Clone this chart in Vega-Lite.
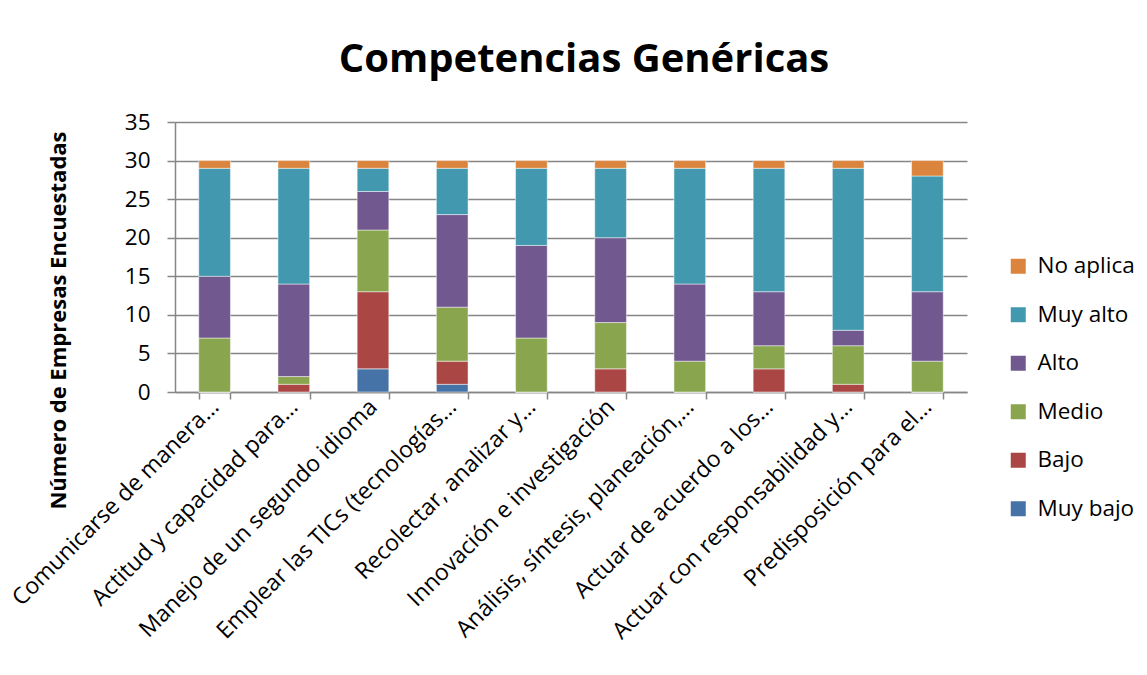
{
  "$schema": "https://vega.github.io/schema/vega-lite/v6.json",
  "autosize": {"type": "none"},
  "padding": {"left": 175, "top": 122, "right": 180, "bottom": 283},
  "width": 792,
  "height": 270,
  "background": "white",
  "title": {
    "text": "Competencias Genéricas",
    "font": "Open Sans",
    "fontSize": 40,
    "fontWeight": "bold",
    "color": "black",
    "anchor": "middle",
    "frame": "group",
    "dx": 13,
    "offset": 31
  },
  "data": {
    "values": [
      {"c": "Comunicarse de manera…", "s": "Muy bajo", "o": 1, "v": 0},
      {"c": "Comunicarse de manera…", "s": "Bajo", "o": 2, "v": 0},
      {"c": "Comunicarse de manera…", "s": "Medio", "o": 3, "v": 7},
      {"c": "Comunicarse de manera…", "s": "Alto", "o": 4, "v": 8},
      {"c": "Comunicarse de manera…", "s": "Muy alto", "o": 5, "v": 14},
      {"c": "Comunicarse de manera…", "s": "No aplica", "o": 6, "v": 1},
      {"c": "Actitud y capacidad para…", "s": "Muy bajo", "o": 1, "v": 0},
      {"c": "Actitud y capacidad para…", "s": "Bajo", "o": 2, "v": 1},
      {"c": "Actitud y capacidad para…", "s": "Medio", "o": 3, "v": 1},
      {"c": "Actitud y capacidad para…", "s": "Alto", "o": 4, "v": 12},
      {"c": "Actitud y capacidad para…", "s": "Muy alto", "o": 5, "v": 15},
      {"c": "Actitud y capacidad para…", "s": "No aplica", "o": 6, "v": 1},
      {"c": "Manejo de un segundo idioma", "s": "Muy bajo", "o": 1, "v": 3},
      {"c": "Manejo de un segundo idioma", "s": "Bajo", "o": 2, "v": 10},
      {"c": "Manejo de un segundo idioma", "s": "Medio", "o": 3, "v": 8},
      {"c": "Manejo de un segundo idioma", "s": "Alto", "o": 4, "v": 5},
      {"c": "Manejo de un segundo idioma", "s": "Muy alto", "o": 5, "v": 3},
      {"c": "Manejo de un segundo idioma", "s": "No aplica", "o": 6, "v": 1},
      {"c": "Emplear las TICs (tecnologías…", "s": "Muy bajo", "o": 1, "v": 1},
      {"c": "Emplear las TICs (tecnologías…", "s": "Bajo", "o": 2, "v": 3},
      {"c": "Emplear las TICs (tecnologías…", "s": "Medio", "o": 3, "v": 7},
      {"c": "Emplear las TICs (tecnologías…", "s": "Alto", "o": 4, "v": 12},
      {"c": "Emplear las TICs (tecnologías…", "s": "Muy alto", "o": 5, "v": 6},
      {"c": "Emplear las TICs (tecnologías…", "s": "No aplica", "o": 6, "v": 1},
      {"c": "Recolectar, analizar y…", "s": "Muy bajo", "o": 1, "v": 0},
      {"c": "Recolectar, analizar y…", "s": "Bajo", "o": 2, "v": 0},
      {"c": "Recolectar, analizar y…", "s": "Medio", "o": 3, "v": 7},
      {"c": "Recolectar, analizar y…", "s": "Alto", "o": 4, "v": 12},
      {"c": "Recolectar, analizar y…", "s": "Muy alto", "o": 5, "v": 10},
      {"c": "Recolectar, analizar y…", "s": "No aplica", "o": 6, "v": 1},
      {"c": "Innovación e investigación", "s": "Muy bajo", "o": 1, "v": 0},
      {"c": "Innovación e investigación", "s": "Bajo", "o": 2, "v": 3},
      {"c": "Innovación e investigación", "s": "Medio", "o": 3, "v": 6},
      {"c": "Innovación e investigación", "s": "Alto", "o": 4, "v": 11},
      {"c": "Innovación e investigación", "s": "Muy alto", "o": 5, "v": 9},
      {"c": "Innovación e investigación", "s": "No aplica", "o": 6, "v": 1},
      {"c": "Análisis, síntesis, planeación,…", "s": "Muy bajo", "o": 1, "v": 0},
      {"c": "Análisis, síntesis, planeación,…", "s": "Bajo", "o": 2, "v": 0},
      {"c": "Análisis, síntesis, planeación,…", "s": "Medio", "o": 3, "v": 4},
      {"c": "Análisis, síntesis, planeación,…", "s": "Alto", "o": 4, "v": 10},
      {"c": "Análisis, síntesis, planeación,…", "s": "Muy alto", "o": 5, "v": 15},
      {"c": "Análisis, síntesis, planeación,…", "s": "No aplica", "o": 6, "v": 1},
      {"c": "Actuar de acuerdo a los…", "s": "Muy bajo", "o": 1, "v": 0},
      {"c": "Actuar de acuerdo a los…", "s": "Bajo", "o": 2, "v": 3},
      {"c": "Actuar de acuerdo a los…", "s": "Medio", "o": 3, "v": 3},
      {"c": "Actuar de acuerdo a los…", "s": "Alto", "o": 4, "v": 7},
      {"c": "Actuar de acuerdo a los…", "s": "Muy alto", "o": 5, "v": 16},
      {"c": "Actuar de acuerdo a los…", "s": "No aplica", "o": 6, "v": 1},
      {"c": "Actuar con responsabilidad y…", "s": "Muy bajo", "o": 1, "v": 0},
      {"c": "Actuar con responsabilidad y…", "s": "Bajo", "o": 2, "v": 1},
      {"c": "Actuar con responsabilidad y…", "s": "Medio", "o": 3, "v": 5},
      {"c": "Actuar con responsabilidad y…", "s": "Alto", "o": 4, "v": 2},
      {"c": "Actuar con responsabilidad y…", "s": "Muy alto", "o": 5, "v": 21},
      {"c": "Actuar con responsabilidad y…", "s": "No aplica", "o": 6, "v": 1},
      {"c": "Predisposición para el…", "s": "Muy bajo", "o": 1, "v": 0},
      {"c": "Predisposición para el…", "s": "Bajo", "o": 2, "v": 0},
      {"c": "Predisposición para el…", "s": "Medio", "o": 3, "v": 4},
      {"c": "Predisposición para el…", "s": "Alto", "o": 4, "v": 9},
      {"c": "Predisposición para el…", "s": "Muy alto", "o": 5, "v": 15},
      {"c": "Predisposición para el…", "s": "No aplica", "o": 6, "v": 2}
    ]
  },
  "mark": {"type": "bar", "stroke": "white", "strokeWidth": 0.6, "strokeOpacity": 0.8},
  "encoding": {
    "x": {
      "field": "c",
      "type": "nominal",
      "sort": null,
      "scale": {"paddingInner": 0.6, "paddingOuter": 0.3},
      "axis": {
        "title": null,
        "labelAngle": -45,
        "labelAlign": "right",
        "labelBaseline": "middle",
        "labelFont": "Open Sans",
        "labelFontSize": 23,
        "labelColor": "black",
        "labelPadding": 4,
        "labelLimit": 400,
        "tickBand": "extent",
        "tickSize": 7,
        "tickColor": "#868686",
        "tickWidth": 1.5,
        "domainColor": "#868686",
        "domainWidth": 1.5
      }
    },
    "y": {
      "field": "v",
      "type": "quantitative",
      "stack": "zero",
      "scale": {"domain": [0, 35], "nice": false},
      "axis": {
        "title": "Número de Empresas Encuestadas",
        "titleFont": "Open Sans",
        "titleFontSize": 22,
        "titleFontWeight": "bold",
        "titleColor": "black",
        "titleX": -105,
        "titleY": 198,
        "titleAlign": "center",
        "values": [0, 5, 10, 15, 20, 25, 30, 35],
        "labelFont": "Open Sans",
        "labelFontSize": 22.5,
        "labelColor": "black",
        "labelPadding": 17,
        "tickSize": 8,
        "tickColor": "#868686",
        "tickWidth": 1.5,
        "domainColor": "#868686",
        "domainWidth": 1.5,
        "grid": true,
        "gridColor": "#868686",
        "gridWidth": 1.5
      }
    },
    "color": {
      "field": "s",
      "type": "nominal",
      "scale": {
        "domain": ["No aplica", "Muy alto", "Alto", "Medio", "Bajo", "Muy bajo"],
        "range": ["#DB843D", "#4198AF", "#71588F", "#89A54E", "#AA4643", "#4572A7"]
      },
      "legend": {
        "title": null,
        "orient": "none",
        "legendX": 832,
        "legendY": 133,
        "symbolType": "square",
        "symbolSize": 225,
        "symbolStrokeWidth": 0,
        "labelFont": "Open Sans",
        "labelFontSize": 22.5,
        "labelColor": "black",
        "rowPadding": 25.5,
        "labelOffset": 8
      }
    },
    "order": {"field": "o", "type": "quantitative"}
  },
  "config": {"view": {"stroke": null}, "axis": {"labelFontWeight": "normal"}}
}
